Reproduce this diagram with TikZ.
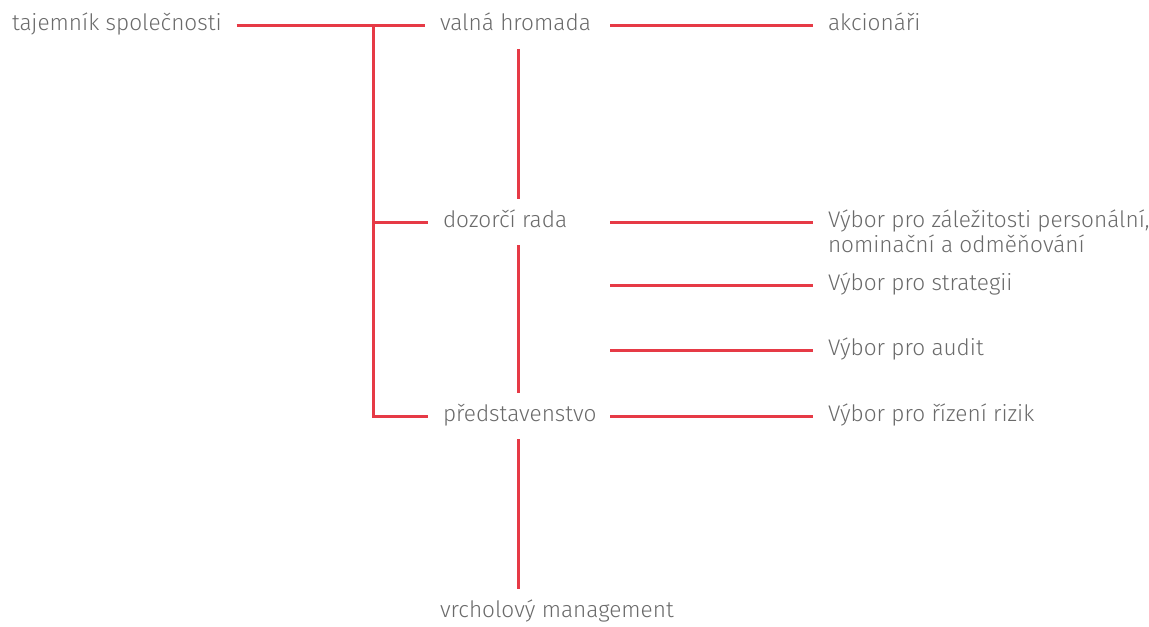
\documentclass[tikz,border=0pt]{standalone}
\usepackage{fontspec}
\setmainfont{Fira Sans Light}
\usetikzlibrary{calc}
\definecolor{linered}{HTML}{E63A46}
\definecolor{textgray}{HTML}{6A6A6A}

\begin{document}
\begin{tikzpicture}[x=0.5pt, y=-0.5pt, line width=1.5pt,
  lbl/.style={anchor=west, inner sep=0pt, text height=7pt, text depth=2pt,
    outer xsep=7.5pt, outer ysep=7pt, text=textgray,
    font=\fontsize{11.3}{12.5}\selectfont},
  link/.style={draw=linered}]
  \useasboundingbox (0,0) rectangle (1149,626);
  % Nodes
  \node[lbl](taj) at (-3,26){tajemník společnosti};
  \node[lbl](valna) at (425,26){valná hromada};
  \node[lbl](akc) at (813,26){akcionáři};
  \node[lbl](dozorci) at (428,222){dozorčí rada};
  \node[lbl](predst) at (428,416){představenstvo};
  \node[lbl](vrch) at (425,612){vrcholový management};
  \node[lbl, anchor=base west, align=left](vybor1) at (813,252){Výbor pro záležitosti personální,\\nominační a odměňování};
  \node[lbl](vyborstrat) at (813,285){Výbor pro strategii};
  \node[lbl](vyboraudit) at (813,350){Výbor pro audit};
  \node[lbl](vyborrizik) at (813,416){Výbor pro řízení rizik};
  \coordinate (ltrunk) at (373,0);
  \coordinate (vtrunk) at (518,0);
  \coordinate (rstart) at (610,0);
  % Edges
  \draw[link] (taj.east) -- (valna.west);
  \draw[link] (taj.east -| ltrunk) |- (predst.west);
  \draw[link] (dozorci.west -| ltrunk) -- (dozorci.west);
  \draw[link] (valna.south -| vtrunk) -- (dozorci.north -| vtrunk);
  \draw[link] (dozorci.south -| vtrunk) -- (predst.north -| vtrunk);
  \draw[link] (predst.south -| vtrunk) -- (vrch.north -| vtrunk);
  \draw[link] (valna.east -| rstart) -- (akc.west);
  \draw[link] (dozorci.west -| rstart) -- (dozorci.west -| vybor1.west);
  \draw[link] (vyborstrat.west -| rstart) -- (vyborstrat.west);
  \draw[link] (vyboraudit.west -| rstart) -- (vyboraudit.west);
  \draw[link] (predst.west -| rstart) -- (vyborrizik.west);
\end{tikzpicture}
\end{document}
